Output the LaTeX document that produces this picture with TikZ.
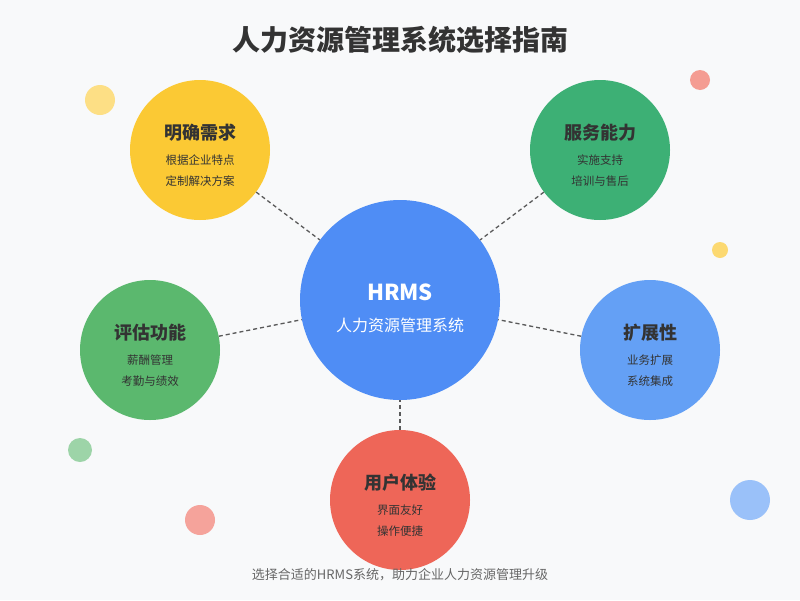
\documentclass[tikz,border=0pt]{standalone}
\usepackage{fontspec}
\setmainfont{Noto Sans CJK SC}
\begin{document}
\begin{tikzpicture}[x=1pt,y=-1pt,
  bub/.style={circle,inner sep=0pt,minimum size=#1},
  ttl/.style={font=\fontsize{18}{20}\selectfont\bfseries,text=black!80},
  sub/.style={font=\fontsize{11.5}{13}\selectfont,text=black!80},
  link/.style={dashed,draw=black!65,line width=1.3pt,dash pattern=on 4pt off 3pt}]
\definecolor{bg}{HTML}{F8F9FA}
\definecolor{cblue}{HTML}{4F8DF5}
\definecolor{cyel}{HTML}{FBC934}
\definecolor{cgreen}{HTML}{3DB075}
\definecolor{cgreen2}{HTML}{5BB86E}
\definecolor{cblue2}{HTML}{64A0F5}
\definecolor{cred}{HTML}{EE6658}
\fill[bg] (0,0) rectangle (800,600);
\useasboundingbox (0,0) rectangle (800,600);
% decor
\fill[cyel!60] (100,100) circle (15);
\fill[cred!65] (700,80) circle (10);
\fill[cyel!70] (720,250) circle (8);
\fill[cgreen2!60] (80,450) circle (12);
\fill[cred!60] (200,520) circle (15);
\fill[cblue2!65] (750,500) circle (20);
\node[font=\fontsize{28}{32}\selectfont\bfseries,text=black!80] (title) at (400,40) {人力资源管理系统选择指南};
\node[bub=200pt,fill=cblue] (c) at (400,300) {};
\node[bub=140pt,fill=cyel] (a) at (200,150) {};
\node[bub=140pt,fill=cgreen] (b) at (600,150) {};
\node[bub=140pt,fill=cgreen2] (d) at (150,350) {};
\node[bub=140pt,fill=cblue2] (e) at (650,350) {};
\node[bub=140pt,fill=cred] (f) at (400,500) {};
\draw[link] (a) -- (c); \draw[link] (b) -- (c); \draw[link] (d) -- (c);
\draw[link] (e) -- (c); \draw[link] (f) -- (c);
\node[font=\fontsize{22}{24}\selectfont\bfseries,text=white] (ct) at (400,292) {HRMS};
\node[font=\fontsize{16}{18}\selectfont,text=white] (cs) at (400,325) {人力资源管理系统};
\node[ttl] (at) at (200,133) {明确需求};
\node[sub] (a1) at (200,160) {根据企业特点};
\node[sub] (a2) at (200,181) {定制解决方案};
\node[ttl] (bt) at (600,133) {服务能力};
\node[sub] (b1) at (600,160) {实施支持};
\node[sub] (b2) at (600,181) {培训与售后};
\node[ttl] (dt) at (150,333) {评估功能};
\node[sub] (d1) at (150,360) {薪酬管理};
\node[sub] (d2) at (150,381) {考勤与绩效};
\node[ttl] (et) at (650,333) {扩展性};
\node[sub] (e1) at (650,360) {业务扩展};
\node[sub] (e2) at (650,381) {系统集成};
\node[ttl] (ft) at (400,483) {用户体验};
\node[sub] (f1) at (400,510) {界面友好};
\node[sub] (f2) at (400,531) {操作便捷};
\node[font=\fontsize{13}{15}\selectfont,text=black!60] (foot) at (400,575) {选择合适的HRMS系统，助力企业人力资源管理升级};
\end{tikzpicture}
\end{document}
